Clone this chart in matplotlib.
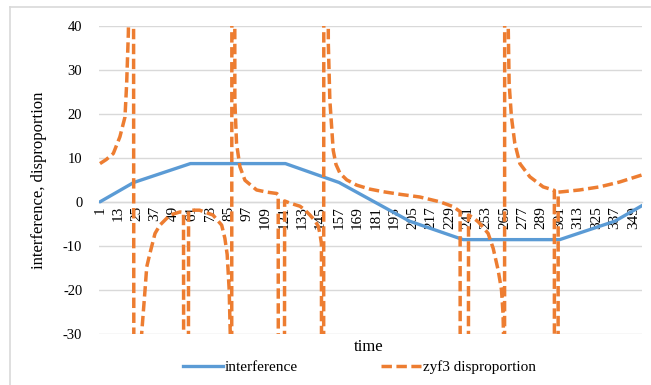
import matplotlib
matplotlib.use("Agg")
import matplotlib.pyplot as plt
from matplotlib.lines import Line2D

# ---------------- data ----------------
x_ticks = list(range(1, 350, 12))
x_ticklabels = [str(v) for v in x_ticks]
y_ticks = [-30, -20, -10, 0, 10, 20, 30, 40]

interference_t = [1, 23, 60, 122, 157, 203, 238, 301, 337, 355]
interference_v = [0.0, 4.4, 8.7, 8.7, 4.4, -4.4, -8.6, -8.6, -4.4, -0.8]

zyf3_t = [1, 5, 9.7, 14, 17.3, 18.4, 19.5, 20.5, 22, 24, 27, 28.2, 30.4, 31.5,
          33.6, 36.9, 40.1, 46.7, 53.2, 55.5, 56.5, 57.8, 58.8, 59.7, 66, 74.7,
          80.4, 82.5, 84, 85.3, 86, 86.5, 87.5, 88.5, 89, 90.1, 92.3, 95.6, 103.2,
          110, 116.3, 117.3, 118, 120, 121.5, 125, 131.5, 134.5, 138, 141, 143.4,
          144.5, 145.5, 146.5, 147.5, 148.5, 150, 151, 153.2, 155, 157.6, 162,
          168.5, 177, 185.8, 197, 209.7, 222.8, 231.5, 234.7, 236, 236.8, 239.5,
          240.5, 241.5, 244.5, 248, 251, 254.3, 257.6, 260.8, 263, 264, 264.3,
          264.6, 265.5, 266.5, 267.4, 268, 269.5, 271.7, 275, 281.5, 290.2, 296.7,
          297.5, 298, 299.5, 300, 303, 314, 327, 340, 354.5]
zyf3_v = [8.7, 9.6, 11.0, 14.8, 19.3, 26.9, 38.3, 60, 500, -500, -500, -29.9, -20, -14.8,
          -11.7, -7.2, -5.3, -3.0, -2.3, -2.4, -400, -400, -2.0, -1.9, -1.9, -3.0,
          -5.3, -8.3, -12, -20, -30, -500, 500, 300, 23, 13.3, 8.0, 4.9, 2.7,
          2.2, 1.9, 1.6, -500, -500, 0.2, -0.3, -1.0, -1.8, -3.0, -4.2, -5.5,
          -7.2, -9.5, -500, 500, 300, 36, 23.1, 11.7, 8.5, 6.5, 5.0,
          3.8, 2.9, 2.3, 1.7, 1.1, 0.0, -1.1, -1.9, -2.2, -500, -500,
          -500, -3.0, -3.6, -4.6, -5.8, -7.2, -10.6, -15.5, -20, -25.4, -30,
          -500, 500, 300, 40, 26.9, 19.3, 13.3, 8.7, 5.7, 3.4, 2.7,
          2.6, -500, -500, 2.2, 2.3, 2.7, 3.4, 4.5, 6.1]

series_names = ["interference", "zyf3 disproportion"]

# ---------------- style ----------------
BLUE = "#5B9BD5"
ORANGE = "#ED7D31"
GRID = "#D9D9D9"
TXT = "#000000"
plt.rcParams["font.family"] = ["Liberation Serif", "DejaVu Serif"]

W, H = 651, 385
fig = plt.figure(figsize=(W / 100, H / 100), dpi=100)

left, right, top, bottom = 99, 642, 26, 333.7
ax = fig.add_axes([left / W, 1 - bottom / H, (right - left) / W, (bottom - top) / H])

for s in ["top", "right", "left"]:
    ax.spines[s].set_visible(False)
ax.spines["bottom"].set_position(("data", 0))
ax.spines["bottom"].set_color(GRID)
ax.spines["bottom"].set_linewidth(1.0)

ax.set_xlim(0.35, 354.7)
ax.set_ylim(-30, 40)

DASH = (0, (3.0, 1.3))
ax.plot(interference_t, interference_v, color=BLUE, lw=2.4, solid_capstyle="round",
        label=series_names[0], zorder=3)
ax.plot(zyf3_t, zyf3_v, color=ORANGE, lw=2.5, linestyle=DASH,
        label=series_names[1], zorder=4)

ax.set_yticks(y_ticks)
ax.set_yticklabels([str(v) for v in y_ticks], fontsize=10.5, color=TXT)
ax.set_xticks(x_ticks)
ax.set_xticklabels(x_ticklabels, rotation=90, fontsize=11, color=TXT, va="top", ha="center")
ax.tick_params(axis="both", length=0)
ax.tick_params(axis="x", pad=3)
ax.tick_params(axis="y", pad=12)

ax.yaxis.grid(True, color=GRID, lw=1.0)
ax.set_axisbelow(True)

ax.set_ylabel("interference, disproportion", fontsize=12, color=TXT)
ax.yaxis.set_label_coords((47 - left) / (right - left), 0.5)

fig.text(369 / W, 1 - 347 / H, "time", fontsize=12, ha="center", va="center", color=TXT)

handles = [Line2D([], [], color=BLUE, lw=2.4),
           Line2D([], [], color=ORANGE, lw=2.5, linestyle=DASH)]
fig.legend(handles, series_names, loc="center", bbox_to_anchor=(359.5 / W, 1 - 367 / H),
           ncol=2, frameon=False, fontsize=11, handlelength=2.6, handletextpad=0.15,
           columnspacing=5.45)

# chart border
fig.add_artist(Line2D([10 / W, 10 / W], [0, 1 - 7 / H], transform=fig.transFigure,
                      color=GRID, lw=1.2))
fig.add_artist(Line2D([10 / W, 650 / W], [1 - 7 / H, 1 - 7 / H], transform=fig.transFigure,
                      color=GRID, lw=1.2))

fig.savefig("out.png", dpi=100, facecolor="white")
